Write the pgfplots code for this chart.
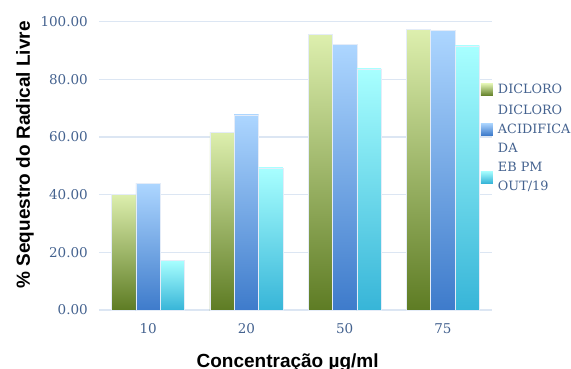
\documentclass[border=0pt]{standalone}
\usepackage{pgfplots}
\pgfplotsset{compat=1.18}
\usepackage{fontspec}
\setmainfont{DejaVu Serif}
\newfontfamily\labelfont{Liberation Sans}

\definecolor{tickblue}{HTML}{44628F}
\definecolor{gridblue}{HTML}{DCE6F3}
\definecolor{barline}{HTML}{E4ECF8}
\definecolor{greenlo}{HTML}{5E7C24}
\definecolor{greenhi}{HTML}{DDEFAE}
\definecolor{bluelo}{HTML}{3E7BCB}
\definecolor{bluehi}{HTML}{ADD6FF}
\definecolor{cyanlo}{HTML}{37B5D8}
\definecolor{cyanhi}{HTML}{A8FFFF}

% one shaded bar: shift, colour stem, x, y
\newcommand{\onebar}[4]{%
  \addplot[forget plot, bar shift=#1, draw=barline, line width=0.5bp,
    bottom color=#2lo, top color=#2hi] coordinates {(#3,#4)};}

\begin{document}
\begin{tikzpicture}
\useasboundingbox (-99bp,-59bp) rectangle (472bp,310bp);
\begin{axis}[
  at={(0,0)}, anchor=south west,
  scale only axis, width=393bp, height=288.3bp,
  xmin=-0.5, xmax=3.5, ymin=0, ymax=100,
  ybar, bar width=24.4bp,
  axis line style={draw=none},
  major tick length=0pt,
  ymajorgrids, grid style={color=gridblue, line width=1.2bp},
  xtick={0,1,2,3}, xticklabels={10,20,50,75},
  ytick={0,20,40,60,80,100},
  yticklabel={\pgfmathprintnumber[fixed, fixed zerofill, precision=2]{\tick}},
  /pgf/number format/assume math mode=true,
  ticklabel style={font=\fontsize{13.5bp}{16bp}\selectfont, text=tickblue},
  yticklabel style={inner sep=0pt, xshift=-11bp},
  xticklabel style={inner sep=0pt, yshift=-13bp},
  clip=false,
  legend cell align=left,
  legend image code/.code={\path[#1, draw=none] (0bp,-6bp) rectangle (12bp,6bp);},
  legend style={
    at={(axis description cs:0.972,0.784)}, anchor=north west,
    draw=none, fill=none, inner sep=0pt, outer sep=0pt,
    font=\fontsize{12.8bp}{19bp}\selectfont, text=tickblue,
    cells={anchor=west, align=left},
    nodes={inner sep=0pt},
    row sep=8.6bp, column sep=5bp,
  },
]
% DICLORO
\onebar{-24.4bp}{green}{0}{40.2}
\onebar{-24.4bp}{green}{1}{61.7}
\onebar{-24.4bp}{green}{2}{95.5}
\onebar{-24.4bp}{green}{3}{97.3}
% DICLORO ACIDIFICADA
\onebar{0bp}{blue}{0}{43.9}
\onebar{0bp}{blue}{1}{67.7}
\onebar{0bp}{blue}{2}{92.1}
\onebar{0bp}{blue}{3}{97.0}
% EB PM OUT/19
\onebar{24.4bp}{cyan}{0}{17.3}
\onebar{24.4bp}{cyan}{1}{49.3}
\onebar{24.4bp}{cyan}{2}{83.6}
\onebar{24.4bp}{cyan}{3}{91.6}

\addlegendimage{bottom color=greenlo, top color=greenhi}
\addlegendentry{DICLORO}
\addlegendimage{bottom color=bluelo, top color=bluehi}
\addlegendentry{DICLORO\\ACIDIFICA\\DA}
\addlegendimage{bottom color=cyanlo, top color=cyanhi}
\addlegendentry{EB PM\\OUT/19}

\node[rotate=90, anchor=base, font=\labelfont\bfseries\fontsize{19bp}{21bp}\selectfont]
  at ([xshift=-69bp]axis description cs:0,0.538) {\% Sequestro do Radical Livre};
\node[anchor=base, font=\labelfont\bfseries\fontsize{19bp}{21bp}\selectfont]
  at ([yshift=-57bp]axis description cs:0.48,0) {Concentração µg/ml};
\end{axis}
\end{tikzpicture}
\end{document}
